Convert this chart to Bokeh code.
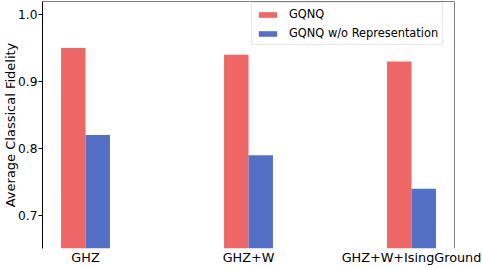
from bokeh.plotting import figure
from bokeh.models import FixedTicker, NumeralTickFormatter, Legend, LegendItem, Range1d, Span
from bokeh.embed import file_html
from bokeh.resources import INLINE
import numpy as np

categories = ["GHZ", "GHZ+W", "GHZ+W+IsingGround"]
gqnq = [0.95, 0.94, 0.93]
gqnq_wo_rep = [0.82, 0.79, 0.74]
series_names = ["GQNQ", "GQNQ w/o Representation"]
y_ticks = [0.7, 0.8, 0.9, 1.0]

RED = "#EE6666"
BLUE = "#5470C6"
FONT = "DejaVu Sans"

idx = np.arange(len(categories))
bw = 0.15

p = figure(width=482, height=268, output_backend="svg", toolbar_location=None,
           x_range=Range1d(-0.2638, 2.2638), y_range=Range1d(0.6507, 1.0194),
           min_border_left=42, min_border_right=28, min_border_top=1, min_border_bottom=20)
p.outline_line_color = None
p.xgrid.visible = False
p.ygrid.visible = False
p.background_fill_color = "white"
p.border_fill_color = "white"

r1 = p.vbar(x=idx - bw / 2, top=gqnq, bottom=0.6, width=bw, fill_color=RED, line_color=None)
r2 = p.vbar(x=idx + bw / 2, top=gqnq_wo_rep, bottom=0.6, width=bw, fill_color=BLUE, line_color=None)

# x axis
xa = p.xaxis[0]
xa.ticker = FixedTicker(ticks=list(idx))
xa.major_label_overrides = {int(i): c for i, c in zip(idx, categories)}
xa.axis_line_color = None
xa.major_tick_out = 0
xa.major_tick_in = 0
xa.major_tick_line_color = None
xa.minor_tick_line_color = None
xa.major_label_standoff = 1
xa.major_label_text_font = FONT
xa.major_label_text_font_size = "12.8px"
xa.major_label_text_color = "black"

# y axis
ya = p.yaxis[0]
ya.ticker = FixedTicker(ticks=y_ticks)
ya.formatter = NumeralTickFormatter(format="0.0")
ya.major_tick_out = 4
ya.major_tick_in = 0
ya.minor_tick_line_color = None
ya.major_label_standoff = 1
ya.major_label_text_font = FONT
ya.major_label_text_font_size = "12.2px"
ya.major_label_text_color = "black"
ya.axis_label = "Average Classical Fidelity"
ya.axis_label_text_font = FONT
ya.axis_label_text_font_size = "13px"
ya.axis_label_text_font_style = "normal"
ya.axis_label_text_color = "black"
ya.axis_label_standoff = -3
ya.axis_line_color = "black"

# top and right frame lines (no bottom spine)
p.add_layout(Span(location=p.y_range.end, dimension="width", line_color="black", line_width=1))
p.add_layout(Span(location=p.x_range.end, dimension="height", line_color="black", line_width=1))

legend = Legend(items=[LegendItem(label=series_names[0], renderers=[r1]),
                       LegendItem(label=series_names[1], renderers=[r2])],
                location=(209, 203), margin=0, padding=4, spacing=5,
                glyph_width=23, glyph_height=7, label_standoff=10, label_height=13,
                label_text_font=FONT, label_text_font_size="11.4px",
                label_text_color="black",
                border_line_color="#e8e8e8", border_line_alpha=1.0,
                background_fill_alpha=1.0)
p.add_layout(legend, "center")

open("out.html", "w").write(file_html(p, INLINE))
